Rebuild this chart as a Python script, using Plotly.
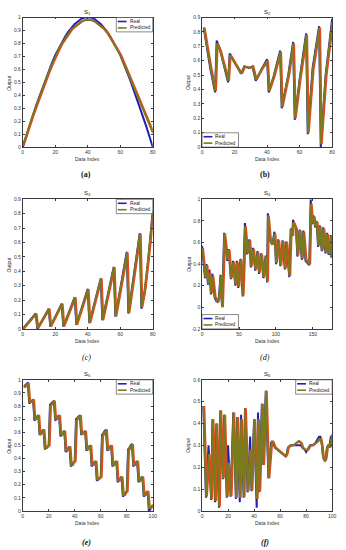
import plotly.graph_objects as go

W, H = 346, 550

# ---------------- data ----------------
s1_x = list(range(0, 81, 2))
s1_real = [0.00, 0.08, 0.16, 0.23, 0.31, 0.38, 0.45, 0.52, 0.59, 0.65, 0.71, 0.76, 0.81, 0.85,
           0.89, 0.92, 0.95, 0.97, 0.99, 1.00, 1.00, 1.00, 0.99, 0.97, 0.95, 0.92, 0.89, 0.85,
           0.81, 0.76, 0.71, 0.65, 0.59, 0.52, 0.45, 0.38, 0.31, 0.23, 0.16, 0.08, 0.00]
s1_pred = [0.01, 0.09, 0.17, 0.24, 0.31, 0.38, 0.45, 0.52, 0.58, 0.64, 0.70, 0.75, 0.80, 0.84,
           0.88, 0.91, 0.93, 0.95, 0.97, 0.98, 0.98, 0.98, 0.97, 0.95, 0.93, 0.91, 0.88, 0.84,
           0.80, 0.76, 0.71, 0.65, 0.59, 0.53, 0.47, 0.40, 0.34, 0.28, 0.22, 0.16, 0.11]

s2_x = [1, 5, 8, 9, 11, 14, 16, 17, 19, 22, 24, 26, 29, 31, 33, 37, 40, 41, 44, 48, 49, 53,
        56, 57, 60, 64, 65, 68, 72, 73, 76, 80]
s2_real = [0.83, 0.55, 0.38, 0.74, 0.68, 0.55, 0.45, 0.65, 0.61, 0.55, 0.51, 0.56, 0.55, 0.56,
           0.46, 0.55, 0.61, 0.38, 0.49, 0.67, 0.27, 0.50, 0.73, 0.19, 0.47, 0.79, 0.09, 0.55,
           0.84, 0.00, 0.50, 0.89]
s2_pred = [0.83, 0.56, 0.39, 0.72, 0.67, 0.55, 0.46, 0.64, 0.60, 0.55, 0.51, 0.56, 0.55, 0.56,
           0.47, 0.55, 0.60, 0.39, 0.49, 0.66, 0.28, 0.50, 0.72, 0.20, 0.47, 0.78, 0.10, 0.54,
           0.83, 0.02, 0.50, 0.87]

s3_x = [0, 8, 9, 16, 17, 24, 25, 32, 33, 40, 41, 48, 49, 56, 57, 64, 65, 72, 73, 75, 77, 80]
s3_real = [0.0, 0.107, 0.0, 0.14, 0.016, 0.175, 0.016, 0.22, 0.027, 0.278, 0.04, 0.35, 0.06,
           0.43, 0.085, 0.535, 0.107, 0.665, 0.14, 0.25, 0.45, 0.82]
s3_pred = [0.0, 0.105, 0.005, 0.14, 0.018, 0.175, 0.018, 0.22, 0.03, 0.275, 0.042, 0.35, 0.062,
           0.43, 0.088, 0.53, 0.11, 0.66, 0.15, 0.28, 0.48, 0.81]

s4_x = [0, 3, 4, 6, 8, 10, 12, 14, 17, 19, 21, 23, 25, 27, 30, 34, 36, 39, 42, 45, 47, 49, 52,
        55, 58, 61, 64, 66, 69, 72, 75, 77, 80, 83, 86, 88, 89, 92, 95, 98, 100, 103, 106, 109,
        112, 114, 117, 118, 120, 122, 123, 127, 129, 132, 135, 137, 140, 143, 145, 147, 149,
        151, 153, 155, 157, 159, 162, 164, 167, 169, 171, 173, 174, 175]
s4_real = [0.57, 0.30, 0.27, 0.40, 0.21, 0.35, 0.12, 0.31, 0.09, 0.06, 0.05, 0.10, 0.30, 0.01,
           0.69, 0.43, 0.54, 0.26, 0.43, 0.20, 0.43, 0.18, 0.45, 0.10, 0.78, 0.49, 0.63, 0.37,
           0.55, 0.34, 0.52, 0.31, 0.50, 0.27, 0.48, 0.23, 0.87, 0.62, 0.58, 0.70, 0.40, 0.63,
           0.38, 0.62, 0.35, 0.61, 0.33, 0.28, 0.73, 0.66, 0.81, 0.74, 0.47, 0.72, 0.44, 0.71,
           0.43, 0.40, 0.39, 1.00, 0.77, 0.85, 0.74, 0.80, 0.56, 0.76, 0.52, 0.74, 0.50, 0.69,
           0.49, 0.50, 0.67, 0.46]
s4_pred = [0.55, 0.31, 0.28, 0.39, 0.22, 0.32, 0.13, 0.29, 0.10, 0.07, 0.05, 0.10, 0.29, 0.00,
           0.68, 0.44, 0.53, 0.27, 0.42, 0.21, 0.42, 0.19, 0.44, 0.11, 0.75, 0.50, 0.62, 0.38,
           0.54, 0.35, 0.51, 0.32, 0.49, 0.28, 0.47, 0.24, 0.85, 0.62, 0.58, 0.68, 0.41, 0.62,
           0.39, 0.61, 0.36, 0.60, 0.34, 0.29, 0.72, 0.66, 0.79, 0.73, 0.48, 0.71, 0.45, 0.70,
           0.44, 0.41, 0.40, 0.96, 0.78, 0.84, 0.75, 0.79, 0.57, 0.75, 0.53, 0.73, 0.51, 0.68,
           0.50, 0.51, 0.66, 0.47]

s5_x = list(range(1, 101))
s5_real = [0.95, 0.96, 0.97, 0.98, 0.82, 0.83, 0.84, 0.85, 0.69, 0.70, 0.72, 0.73,
           0.58, 0.59, 0.61, 0.62, 0.47, 0.48, 0.49, 0.50,
           0.81, 0.82, 0.83, 0.84, 0.69, 0.70, 0.72, 0.73, 0.57, 0.58, 0.60, 0.61,
           0.45, 0.46, 0.48, 0.49, 0.34, 0.35, 0.37, 0.38,
           0.70, 0.71, 0.72, 0.73, 0.58, 0.59, 0.60, 0.61, 0.46, 0.47, 0.49, 0.50,
           0.34, 0.35, 0.37, 0.38, 0.23, 0.24, 0.25, 0.26,
           0.58, 0.59, 0.61, 0.62, 0.46, 0.47, 0.49, 0.50, 0.34, 0.35, 0.37, 0.38,
           0.22, 0.23, 0.25, 0.26, 0.11, 0.12, 0.14, 0.15,
           0.47, 0.48, 0.50, 0.51, 0.34, 0.35, 0.37, 0.38, 0.22, 0.23, 0.25, 0.26,
           0.11, 0.12, 0.14, 0.15, 0.00, 0.01, 0.03, 0.04]
s5_pred = [0.94, 0.96, 0.97, 0.97, 0.83, 0.83, 0.84, 0.85, 0.70, 0.70, 0.72, 0.73,
           0.58, 0.59, 0.61, 0.62, 0.48, 0.48, 0.49, 0.50,
           0.80, 0.82, 0.83, 0.84, 0.70, 0.70, 0.72, 0.73, 0.58, 0.58, 0.60, 0.61,
           0.46, 0.46, 0.48, 0.49, 0.35, 0.35, 0.37, 0.38,
           0.69, 0.71, 0.72, 0.73, 0.59, 0.59, 0.60, 0.61, 0.47, 0.47, 0.49, 0.50,
           0.35, 0.35, 0.37, 0.38, 0.24, 0.24, 0.25, 0.26,
           0.57, 0.59, 0.61, 0.62, 0.47, 0.47, 0.49, 0.50, 0.35, 0.35, 0.37, 0.38,
           0.23, 0.23, 0.25, 0.26, 0.12, 0.12, 0.14, 0.15,
           0.46, 0.48, 0.50, 0.51, 0.35, 0.35, 0.37, 0.38, 0.23, 0.23, 0.25, 0.26,
           0.12, 0.12, 0.14, 0.15, 0.02, 0.02, 0.03, 0.05]

s6_x = [1, 3, 5, 7, 8, 10, 11, 13, 14, 16, 17, 19, 20, 22, 24, 26, 27, 29, 30, 32, 33, 35, 37,
        38, 40, 42, 43, 44, 46, 47, 49, 51, 53, 54, 56, 58, 60, 62, 64, 65, 66, 68, 70, 72, 74,
        76, 77, 79, 80, 81, 83, 85, 87, 89, 90, 91, 92, 93, 94, 95, 96, 97, 98, 99, 100]
s6_real = [0.48, 0.06, 0.30, 0.05, 0.42, 0.04, 0.40, 0.015, 0.46, 0.145, 0.44, 0.06, 0.30,
           0.065, 0.45, 0.055, 0.43, 0.04, 0.44, 0.06, 0.47, 0.085, 0.34, 0.09, 0.42, 0.015,
           0.45, 0.085, 0.49, 0.21, 0.55, 0.15, 0.31, 0.32, 0.29, 0.28, 0.27, 0.26, 0.25, 0.26,
           0.29, 0.30, 0.30, 0.30, 0.30, 0.30, 0.29, 0.28, 0.27, 0.28, 0.30, 0.30, 0.31, 0.33,
           0.34, 0.34, 0.31, 0.25, 0.24, 0.23, 0.29, 0.30, 0.30, 0.34, 0.34]
s6_pred = [0.48, 0.065, 0.26, 0.055, 0.42, 0.045, 0.40, 0.02, 0.46, 0.15, 0.44, 0.065, 0.22,
           0.07, 0.45, 0.06, 0.43, 0.06, 0.42, 0.065, 0.47, 0.09, 0.28, 0.095, 0.42, 0.055,
           0.42, 0.09, 0.49, 0.21, 0.55, 0.15, 0.30, 0.32, 0.29, 0.28, 0.27, 0.26, 0.25, 0.26,
           0.29, 0.30, 0.30, 0.31, 0.32, 0.31, 0.29, 0.28, 0.28, 0.28, 0.30, 0.30, 0.31, 0.32,
           0.33, 0.33, 0.30, 0.24, 0.23, 0.24, 0.29, 0.30, 0.29, 0.33, 0.35]

titles = ["S<sub>1</sub>", "S<sub>2</sub>", "S<sub>3</sub>", "S<sub>4</sub>", "S<sub>5</sub>", "S<sub>6</sub>"]
captions = ["<b>(a)</b>", "<b>(b)</b>", "<i>(c)</i>", "<i>(d)</i>", "<b><i>(e)</i></b>", "<b><i>(f)</i></b>"]
series_names = ["Real", "Predicted"]

panels = [
    dict(x=s1_x, real=s1_real, pred=s1_pred, xr=[0, 80], xt=[0, 20, 40, 60, 80], yr=[0, 1], dy=0.1, leg="tr"),
    dict(x=s2_x, real=s2_real, pred=s2_pred, xr=[0, 80], xt=[0, 20, 40, 60, 80], yr=[0, 0.9], dy=0.1, leg="bl"),
    dict(x=s3_x, real=s3_real, pred=s3_pred, xr=[0, 80], xt=[0, 20, 40, 60, 80], yr=[0, 0.9], dy=0.1, leg="tr"),
    dict(x=s4_x, real=s4_real, pred=s4_pred, xr=[0, 176], xt=[0, 50, 100, 150], yr=[-0.2, 1], dy=0.2, leg="bl"),
    dict(x=s5_x, real=s5_real, pred=s5_pred, xr=[0, 100], xt=[0, 20, 40, 60, 80, 100], yr=[0, 1], dy=0.1, leg="tr"),
    dict(x=s6_x, real=s6_real, pred=s6_pred, xr=[0, 100], xt=[0, 20, 40, 60, 80, 100], yr=[0, 0.6], dy=0.1, leg="tr"),
]

BLUE = "#2020b4"
OLIVE = "#7a7a1e"
RED = "#e24a1e"
AX = "#3a3a3a"
FONT = "Liberation Sans, Arial, sans-serif"

col_px = [(22, 154), (204, 336)]
row_px = [(14.7, 145.7), (198.5, 329.5), (381, 513.5)]
cap_y = [173, 358, 545]

fig = go.Figure()
layout = dict(width=W, height=H, margin=dict(l=0, r=0, t=0, b=0),
              paper_bgcolor="white", plot_bgcolor="white", showlegend=False)
shapes, annotations = [], []

for k, p in enumerate(panels):
    r, c = divmod(k, 2)
    x0, x1 = col_px[c]
    y0, y1 = row_px[r]
    axw, axh = x1 - x0, y1 - y0
    n = k + 1
    xa, ya = ("x" if n == 1 else f"x{n}"), ("y" if n == 1 else f"y{n}")
    dx = 1.1 * (p["xr"][1] - p["xr"][0]) / axw

    fig.add_trace(go.Scatter(x=p["x"], y=p["real"], mode="lines", xaxis=xa, yaxis=ya,
                             line=dict(color=BLUE, width=2.0), name=series_names[0]))
    fig.add_trace(go.Scatter(x=[v + dx for v in p["x"]], y=p["pred"], mode="lines", xaxis=xa, yaxis=ya,
                             line=dict(color=RED, width=1.8), hoverinfo="skip"))
    fig.add_trace(go.Scatter(x=p["x"], y=p["pred"], mode="lines", xaxis=xa, yaxis=ya,
                             line=dict(color=OLIVE, width=1.7), name=series_names[1]))

    nticks = int(round((p["yr"][1] - p["yr"][0]) / p["dy"]))
    yt = [round(p["yr"][0] + i * p["dy"], 2) for i in range(nticks + 1)]
    common = dict(showline=True, mirror="allticks", linecolor=AX, linewidth=0.7,
                  ticks="inside", ticklen=2, tickcolor=AX, tickwidth=0.6,
                  showgrid=False, zeroline=False, tickfont=dict(size=5, color="#333", family=FONT))
    layout["xaxis" + ("" if n == 1 else str(n))] = dict(
        domain=[x0 / W, x1 / W], anchor=ya, range=p["xr"], tickvals=p["xt"], **common)
    layout["yaxis" + ("" if n == 1 else str(n))] = dict(
        domain=[1 - y1 / H, 1 - y0 / H], anchor=xa, range=p["yr"], tickvals=yt,
        ticktext=[("%g" % v) for v in yt], **common)

    cx = (x0 + x1) / 2 / W
    annotations.append(dict(text=titles[k], x=cx, y=1 - (y0 - 5.5) / H, xref="paper", yref="paper",
                            showarrow=False, font=dict(size=6, color="#222", family=FONT),
                            xanchor="center", yanchor="middle"))
    annotations.append(dict(text="Output", x=(x0 - 13.5) / W, y=1 - (y0 + y1) / 2 / H, xref="paper",
                            yref="paper", showarrow=False, textangle=-90,
                            font=dict(size=5, color="#333", family=FONT), xanchor="center", yanchor="middle"))
    annotations.append(dict(text="Data Index", x=cx, y=1 - (y1 + 12.5) / H, xref="paper", yref="paper",
                            showarrow=False, font=dict(size=5, color="#333", family=FONT),
                            xanchor="center", yanchor="middle"))
    annotations.append(dict(text=captions[k], x=(x0 + x1) / 2 / W - 0.005, y=1 - cap_y[r] / H, xref="paper",
                            yref="paper", showarrow=False,
                            font=dict(size=8, color="#111", family="Liberation Serif, Times New Roman, serif"),
                            xanchor="center", yanchor="middle"))

    # custom legend box
    xd, yd = f"{xa} domain", f"{ya} domain"
    bw, bh = 37 / axw, 14.5 / axh
    if p["leg"] == "tr":
        bx0, by1 = 1 - bw, 1.0
    else:
        bx0, by1 = 0.0, bh
    bx1, by0 = bx0 + bw, by1 - bh
    shapes.append(dict(type="rect", xref=xd, yref=yd, x0=bx0, x1=bx1, y0=by0, y1=by1,
                       line=dict(color=AX, width=0.6), fillcolor="white", layer="above"))
    for j, (nm, colr) in enumerate(zip(series_names, [BLUE, OLIVE])):
        yy = by1 - (4.0 + 6.5 * j) / axh
        shapes.append(dict(type="line", xref=xd, yref=yd, x0=bx0 + 1.5 / axw, x1=bx0 + 10.5 / axw,
                           y0=yy, y1=yy, line=dict(color=colr, width=1.6), layer="above"))
        annotations.append(dict(text=nm, x=bx0 + 11.5 / axw, y=yy, xref=xd, yref=yd, showarrow=False,
                                xanchor="left", yanchor="middle",
                                font=dict(size=4.8, color="#222", family=FONT)))

layout["shapes"] = shapes
layout["annotations"] = annotations
fig.update_layout(**layout)
fig.write_html("out.html", config={"displayModeBar": False},
               post_script="document.body.style.margin='0';document.body.style.overflow='hidden';")
